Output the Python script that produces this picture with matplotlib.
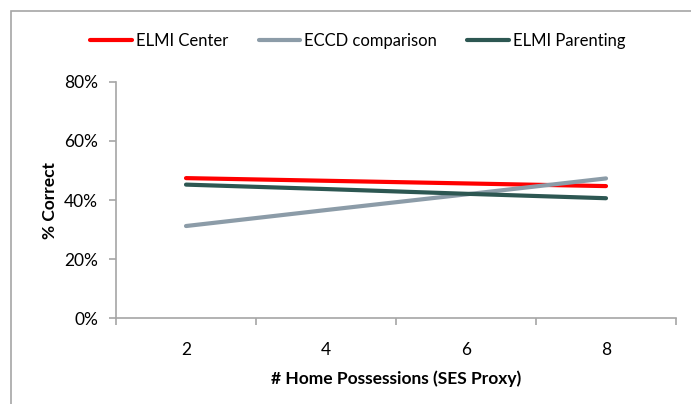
import matplotlib

matplotlib.use("Agg")
import matplotlib.pyplot as plt
from matplotlib.patches import Rectangle
from matplotlib.ticker import FuncFormatter

# data
CATEGORIES = [2, 4, 6, 8]
ELMI_CENTER = [47.4, 46.5, 45.6, 44.7]
ECCD_COMPARISON = [31.2, 36.6, 41.9, 47.3]
ELMI_PARENTING = [45.2, 43.7, 42.1, 40.6]
SERIES_NAMES = ["ELMI Center", "ECCD comparison", "ELMI Parenting"]
Y_TICKS = [0, 20, 40, 60, 80]

COLORS = ["#ff0000", "#8c9ca8", "#2d5752"]
AXIS_GREY = "#a6a6a6"

plt.rcParams["font.family"] = ["Lato", "DejaVu Sans"]

fig = plt.figure(figsize=(6.91, 4.04), dpi=100)
fig.patch.set_facecolor("white")

# outer chart border (runs off the right and bottom of the image)
fig.patches.append(Rectangle((11 / 691, -0.2), 1.2, 1.2 - 11 / 404,
                             transform=fig.transFigure, fill=False,
                             edgecolor=AXIS_GREY, linewidth=1.2))

ax = fig.add_axes([116 / 691, 1 - 318.3 / 404, 560 / 691, 236.6 / 404])

for vals, name, col in zip([ELMI_CENTER, ECCD_COMPARISON, ELMI_PARENTING],
                           SERIES_NAMES, COLORS):
    ax.plot(CATEGORIES, vals, color=col, linewidth=3.0, label=name,
            solid_capstyle="round")

ax.set_xlim(1, 9)
ax.set_ylim(0, 80)
ax.set_yticks(Y_TICKS)
ax.yaxis.set_major_formatter(FuncFormatter(lambda v, _: f"{v:.0f}%"))
ax.set_xticks([1, 3, 5, 7, 9])
ax.set_xticklabels([])
ax.set_xticks(CATEGORIES, minor=True)
ax.set_xticklabels([str(c) for c in CATEGORIES], minor=True)

for side in ("top", "right"):
    ax.spines[side].set_visible(False)
for side in ("left", "bottom"):
    ax.spines[side].set_color(AXIS_GREY)
    ax.spines[side].set_linewidth(1.2)

ax.tick_params(axis="y", which="major", direction="out", length=5,
               color=AXIS_GREY, width=1.2, labelsize=12.5, pad=8)
ax.tick_params(axis="x", which="major", direction="out", length=5,
               color=AXIS_GREY, width=1.2)
ax.tick_params(axis="x", which="minor", length=0, labelsize=12.5, pad=17)

ax.set_ylabel("% Correct", fontsize=12.5, fontweight="bold", labelpad=4)
ax.set_xlabel("# Home Possessions (SES Proxy)", fontsize=12.5,
              fontweight="bold", labelpad=9)

fig.legend(loc="center", bbox_to_anchor=(358 / 691, 1 - 41 / 404), ncol=3,
           frameon=False, fontsize=12, handlelength=2.5,
           handletextpad=0.25, columnspacing=1.8)

fig.savefig("out.png", dpi=100, facecolor="white")
